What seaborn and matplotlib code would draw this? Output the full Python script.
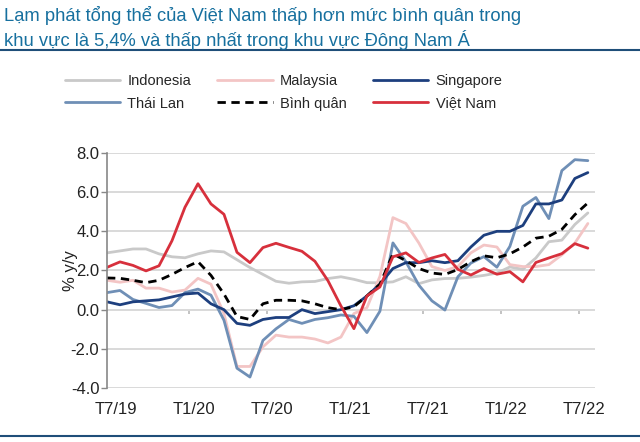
import numpy as np
import pandas as pd
import matplotlib
matplotlib.use("Agg")
import matplotlib.pyplot as plt
from matplotlib.lines import Line2D
import seaborn as sns

# ---- data (monthly, T6/19 .. T7/22) ----
indonesia = [2.9, 3.0, 3.1, 3.1, 2.85, 2.7, 2.65, 2.85, 3.0, 2.95, 2.55, 2.15,
             1.8, 1.45, 1.35, 1.42, 1.44, 1.59, 1.68, 1.55, 1.38, 1.37, 1.42, 1.68,
             1.33, 1.52, 1.59, 1.60, 1.66, 1.75, 1.87, 2.18, 2.06, 2.64, 3.47, 3.55,
             4.35, 4.94]
malaysia = [1.5, 1.4, 1.5, 1.1, 1.1, 0.9, 1.0, 1.6, 1.3, -0.2, -2.9, -2.9,
            -1.9, -1.3, -1.4, -1.4, -1.5, -1.7, -1.4, -0.2, 0.1, 1.7, 4.7, 4.4,
            3.4, 2.2, 2.0, 2.2, 2.9, 3.3, 3.2, 2.3, 2.2, 2.2, 2.3, 2.8, 3.4, 4.4]
singapore = [0.4, 0.25, 0.4, 0.45, 0.5, 0.65, 0.8, 0.85, 0.3, 0.0, -0.7, -0.8,
             -0.5, -0.4, -0.4, 0.0, -0.2, -0.1, 0.0, 0.2, 0.7, 1.3, 2.1, 2.4,
             2.4, 2.5, 2.4, 2.5, 3.2, 3.8, 4.0, 4.0, 4.3, 5.4, 5.4, 5.6, 6.7, 7.0]
thailand = [0.87, 0.98, 0.52, 0.32, 0.11, 0.21, 0.87, 1.05, 0.74, -0.54, -2.99, -3.44,
            -1.57, -0.98, -0.50, -0.70, -0.50, -0.41, -0.27, -0.34, -1.17, -0.08, 3.41, 2.44,
            1.25, 0.45, -0.02, 1.68, 2.38, 2.71, 2.17, 3.23, 5.28, 5.73, 4.65, 7.10,
            7.66, 7.61]
average = [1.62, 1.6, 1.5, 1.38, 1.5, 1.8, 2.15, 2.45, 1.75, 0.8, -0.35, -0.5,
           0.3, 0.48, 0.48, 0.45, 0.3, 0.1, 0.0, 0.15, 0.7, 1.3, 2.85, 2.5,
           2.1, 1.87, 1.8, 2.05, 2.45, 2.75, 2.65, 2.85, 3.2, 3.65, 3.75, 4.1,
           4.85, 5.45]
vietnam = [2.16, 2.44, 2.26, 1.98, 2.24, 3.52, 5.23, 6.43, 5.40, 4.87, 2.93, 2.40,
           3.17, 3.39, 3.18, 2.98, 2.47, 1.48, 0.19, -0.97, 0.70, 1.16, 2.70, 2.90,
           2.41, 2.64, 2.82, 2.06, 1.77, 2.10, 1.81, 1.94, 1.42, 2.41, 2.64, 2.86,
           3.37, 3.14]

series_names = ["Indonesia", "Malaysia", "Thái Lan", "Singapore", "Bình quân", "Việt Nam"]
series_values = [indonesia, malaysia, thailand, singapore, average, vietnam]
xtick_labels = ["T7/19", "T1/20", "T7/20", "T1/21", "T7/21", "T1/22", "T7/22"]
xtick_months = [1, 7, 13, 19, 25, 31, 37]
ytick_values = [-4, -2, 0, 2, 4, 6, 8]
ytick_labels = ["-4.0", "-2.0", "0.0", "2.0", "4.0", "6.0", "8.0"]
legend_order = ["Indonesia", "Malaysia", "Singapore", "Thái Lan", "Bình quân", "Việt Nam"]

palette = {"Indonesia": "#c9c9c9", "Malaysia": "#f3c5c5", "Thái Lan": "#6f8fb6",
           "Singapore": "#1d3f7e", "Bình quân": "#000000", "Việt Nam": "#d7303c"}
dashes = {n: "" for n in series_names}
dashes["Bình quân"] = (3, 2)

rows = []
for name, vals in zip(series_names, series_values):
    for i, v in enumerate(vals):
        rows.append({"month": i, "value": v, "series": name})
df = pd.DataFrame(rows)

sns.set_theme(style="white")
plt.rcParams["font.family"] = ["Liberation Sans", "DejaVu Sans"]

fig = plt.figure(figsize=(6.4, 4.42), dpi=100)
ax = fig.add_axes([107 / 640, 1 - 388 / 442, (595 - 107) / 640, (388 - 153) / 442])

sns.lineplot(data=df, x="month", y="value", hue="series", style="series",
             hue_order=series_names, style_order=series_names,
             palette=palette, dashes=dashes, linewidth=2.0, ax=ax, legend=True)

ax.set_xlim(0, 37.55)
ax.set_ylim(-4, 8)
ax.set_yticks(ytick_values)
ax.set_yticklabels(ytick_labels, fontsize=12, color="#222222")
ax.set_xticks([m - 0.3 for m in xtick_months])
ax.set_xticklabels(xtick_labels, fontsize=12, color="#222222")
ax.tick_params(axis="x", length=0, pad=10)
ax.tick_params(axis="y", length=4, width=1, color="#888888", direction="out", left=True, pad=1.5)
ax.set_xlabel("")
ax.set_ylabel("% y/y", fontsize=12, color="#222222")
ax.yaxis.set_label_coords(-0.059, 0.5)

ax.yaxis.grid(True, color="#d9d9d9", linewidth=1.4)
ax.xaxis.grid(False)
for s in ["top", "right", "bottom"]:
    ax.spines[s].set_visible(False)
ax.spines["left"].set_color("#888888")
ax.spines["left"].set_linewidth(1.2)

# small category tick marks on the zero line
sec = ax.secondary_xaxis(1 / 3)
sec.set_xticks([6 * k + 0.3 for k in range(1, 7)])
sec.set_xticklabels([])
sec.tick_params(length=3, color="#bbbbbb", direction="out")
sec.spines["bottom"].set_visible(False)

handles, labels = ax.get_legend_handles_labels()
hmap = dict(zip(labels, handles))
ax.get_legend().remove()
# column-major order for 3 columns x 2 rows
col_order = [legend_order[0], legend_order[3], legend_order[1], legend_order[4],
             legend_order[2], legend_order[5]]
leg = fig.legend([hmap[n] for n in col_order], col_order, ncol=3, loc="center",
                 bbox_to_anchor=(0.443, 1 - 92.5 / 442), frameon=False, fontsize=10.5,
                 handlelength=3.8, handletextpad=0.5, columnspacing=1.8, labelspacing=0.55)
for h in leg.legend_handles:
    h.set_linewidth(2.0)

fig.text(0.006, 1 - 28 / 442, "Lạm phát tổng thể của Việt Nam thấp hơn mức bình quân trong\n"
         "khu vực là 5,4% và thấp nhất trong khu vực Đông Nam Á",
         fontsize=13.2, color="#17709f", va="center", ha="left", linespacing=1.3)

fig.add_artist(Line2D([0, 1], [1 - 50 / 442, 1 - 50 / 442], transform=fig.transFigure,
                      color="#1f4e79", linewidth=1.5))
fig.add_artist(Line2D([0, 1], [1 - 436 / 442, 1 - 436 / 442], transform=fig.transFigure,
                      color="#1f4e79", linewidth=1.5))

fig.savefig("out.png", dpi=100)
